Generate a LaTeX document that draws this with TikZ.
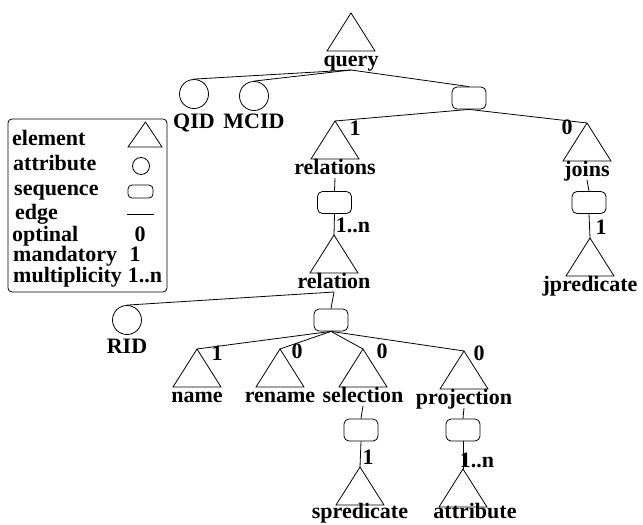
\documentclass[tikz,border=0pt]{standalone}
\usepackage{fontspec}
\setmainfont{Liberation Serif}
\usetikzlibrary{positioning}
\tikzset{
  ln/.style={line width=0.8pt,black},
  tag/.style={font=\fontsize{22}{24}\selectfont\bfseries,inner sep=0pt},
  seq/.style={draw,line width=0.8pt,rounded corners=5pt,minimum width=34pt,
              minimum height=22pt,inner sep=0pt},
  attrc/.style={draw,line width=0.8pt,circle,minimum size=29pt,inner sep=0pt},
  lblx/.store in=\elemlblx, lblx=0,
  lbly/.store in=\elemlbly, lbly=53,
  elem/.pic={
    \draw[ln] (-24,38) -- (0,0) -- (24,38) -- cycle;
    \coordinate (-top) at (0,0);
    \coordinate (-bot) at (0,57);
    \node[tag,anchor=base] (-lbl) at (\elemlblx,\elemlbly) {#1};
  },
}
\begin{document}
\begin{tikzpicture}[x=1pt,y=-1pt]
  \useasboundingbox (0,0) rectangle (643,525);
  % legend
  \draw[ln,rounded corners=4pt] (8,119) rectangle (167,292);
  \node[tag,anchor=base west] (lgel) at (12,145) {element};
  \node[tag,anchor=base west] (lgat) at (13,170) {attribute};
  \node[tag,anchor=base west] (lgsq) at (14,195) {sequence};
  \node[tag,anchor=base west] (lged) at (15,219) {edge};
  \node[tag,anchor=base west] (lgop) at (12,241) {optinal};
  \node[tag,anchor=base west] (lgma) at (13,261) {mandatory};
  \node[tag,anchor=base west] (lgmu) at (13,282) {multiplicity};
  \draw[ln] (128,147) -- (145.5,122) -- (162,147) -- cycle;
  \node[attrc,minimum size=17pt] (lgc) at (141,166) {};
  \node[seq,minimum width=25pt,minimum height=13pt,rounded corners=4pt] (lgs) at (140.5,191.5) {};
  \draw[ln] (127,214) -- (154,214);
  \node[tag,anchor=base] (lg0) at (140,241) {0};
  \node[tag,anchor=base] (lg1) at (135,261) {1};
  \node[tag,anchor=base] (lgn) at (145,282) {1..n};
  % tree
  \pic (query) at (351,13) {elem=query};
  \node[attrc] (qid) at (194,94) {};
  \node[tag,anchor=base] (qidl) at (194,128) {QID};
  \node[attrc] (mcid) at (254,96) {};
  \node[tag,anchor=base] (mcidl) at (254,128) {MCID};
  \node[seq] (s0) at (469,98) {};
  \pic (rels) at (335,121) {elem=relations};
  \pic (joins) at (587,123) {elem=joins};
  \node[seq] (s1) at (334.5,202.5) {};
  \node[seq] (s2) at (589,202.5) {};
  \pic (rel) at (334,235) {elem=relation};
  \pic (jpred) at (590,238) {elem=jpredicate};
  \node[attrc] (rid) at (127,320) {};
  \node[tag,anchor=base] (ridl) at (127,353) {RID};
  \node[seq] (s3) at (331,320) {};
  \pic (name) at (197,349) {elem=name};
  \pic (ren) at (280,349) {elem=rename};
  \pic (sel) at (363,349) {elem=selection};
  \pic (proj) at (464,351) {elem=projection};
  \node[seq] (s4) at (361,430) {};
  \node[seq] (s5) at (463,430) {};
  \pic[lbly=51] (spred) at (360,467) {elem=spredicate};
  \pic[lblx=12,lbly=49] (attr) at (463,469) {elem=attribute};
  % cardinalities
  \node[tag,anchor=base] (c1) at (355,135) {1};
  \node[tag,anchor=base] (c2) at (567,134) {0};
  \node[tag,anchor=base] (c3) at (353,232) {1..n};
  \node[tag,anchor=base] (c4) at (601,234) {1};
  \node[tag,anchor=base] (c5) at (217,360) {1};
  \node[tag,anchor=base] (c6) at (297,358) {0};
  \node[tag,anchor=base] (c7) at (382,358) {0};
  \node[tag,anchor=base] (c8) at (479,360) {0};
  \node[tag,anchor=base] (c9) at (368,464) {1};
  \node[tag,anchor=base] (c10) at (477,467) {1..n};
  % edges
  \draw[ln] (query-bot) -- (qid.north);
  \draw[ln] (query-bot) -- (mcid.north);
  \draw[ln] (query-bot) -- (s0.north);
  \draw[ln] (s0.south) -- (rels-top);
  \draw[ln] (s0.south) -- (joins-top);
  \draw[ln] (rels-bot) -- (s1.north);
  \draw[ln] (s1.south) -- (rel-top);
  \draw[ln] (joins-bot) -- (s2.north);
  \draw[ln] (s2.south) -- (jpred-top);
  \draw[ln] (rel-bot) -- (rid.north);
  \draw[ln] (rel-bot) -- (s3.north);
  \foreach \c in {name,ren,sel,proj}
    \draw[ln] (s3.south) -- (\c-top);
  \draw[ln] (sel-bot) -- (s4.north);
  \draw[ln] (s4.south) -- (spred-top);
  \draw[ln] (proj-bot) -- (s5.north);
  \draw[ln] (s5.south) -- (attr-top);
\end{tikzpicture}
\end{document}
